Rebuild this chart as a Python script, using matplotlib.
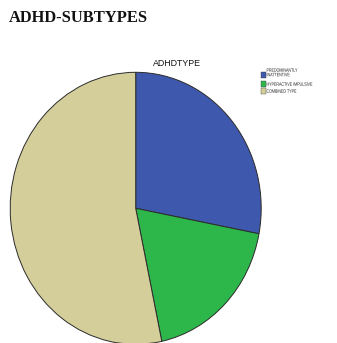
import matplotlib
matplotlib.use("Agg")
import matplotlib.pyplot as plt
from matplotlib.textpath import TextPath
from matplotlib.font_manager import FontProperties
from matplotlib.patches import PathPatch
from matplotlib.transforms import Affine2D, IdentityTransform

# ADHD subtype counts
categories = ["PREDOMINANTLY\nINATTENTIVE", "HYPERACTIVE IMPULSIVE", "COMBINED TYPE"]
counts = [21, 14, 40]
colors = ["#3e58ad", "#2db74b", "#d4cf9a"]

W, H = 337, 343
fig = plt.figure(figsize=(W / 100, H / 100), dpi=100)
fig.patch.set_facecolor("white")

# Pie axes, placed in pixel terms (slightly taller than wide)
cx, cy = 135.7, H - 208.3
rx, ry = 125.5, 136.0
ax = fig.add_axes([(cx - rx) / W, (cy - ry) / H, 2 * rx / W, 2 * ry / H])
wedges, _ = ax.pie(counts, colors=colors, startangle=90, counterclock=False,
                   radius=1.0, wedgeprops=dict(edgecolor="#2b2b2b", linewidth=0.7))
for w in wedges:
    w.set_clip_on(False)
ax.set_aspect("auto")
ax.set_xlim(-1, 1)
ax.set_ylim(-1, 1)
ax.axis("off")

# Page heading
fig.text(9 / W, 1 - 18 / H, "ADHD-SUBTYPES", fontfamily="Liberation Serif",
         fontweight="bold", fontsize=11.9, va="center", ha="left", color="#111111")

# Chart title
fig.text(176.5 / W, 1 - 63 / H, "ADHDTYPE", fontfamily="Liberation Sans",
         fontsize=6.4, va="center", ha="center", color="#111111")

# Legend: small condensed labels drawn as outlined text paths
legend_font = FontProperties(family="Liberation Sans")
em = 4.9          # font size in pixels
squeeze = 0.74    # horizontal condensing of the label text


def condensed_label(x_px, y_top_px, s):
    tp = TextPath((0, 0), s, size=em, prop=legend_font)
    base = H - y_top_px - 0.36 * em
    tr = Affine2D().scale(squeeze, 1.0).translate(x_px, base) + IdentityTransform()
    fig.patches.append(PathPatch(tp, transform=tr, facecolor="#222222",
                                 edgecolor="none", lw=0))


sq = 5
rows_y = [75, 84, 91]
text_y = [[70, 74.5], [84], [91]]
labels = [["PREDOMINANTLY", "INATTENTIVE"], ["HYPERACTIVE IMPULSIVE"], ["COMBINED TYPE"]]
for yy, col, lines, tys in zip(rows_y, colors, labels, text_y):
    fig.patches.append(plt.Rectangle((261 / W, 1 - (yy + sq / 2) / H), sq / W, sq / H,
                                     transform=fig.transFigure, facecolor=col,
                                     edgecolor="#444444", linewidth=0.3))
    for line, ty in zip(lines, tys):
        condensed_label(266.5, ty, line)

fig.savefig("out.png", dpi=100, facecolor="white")
